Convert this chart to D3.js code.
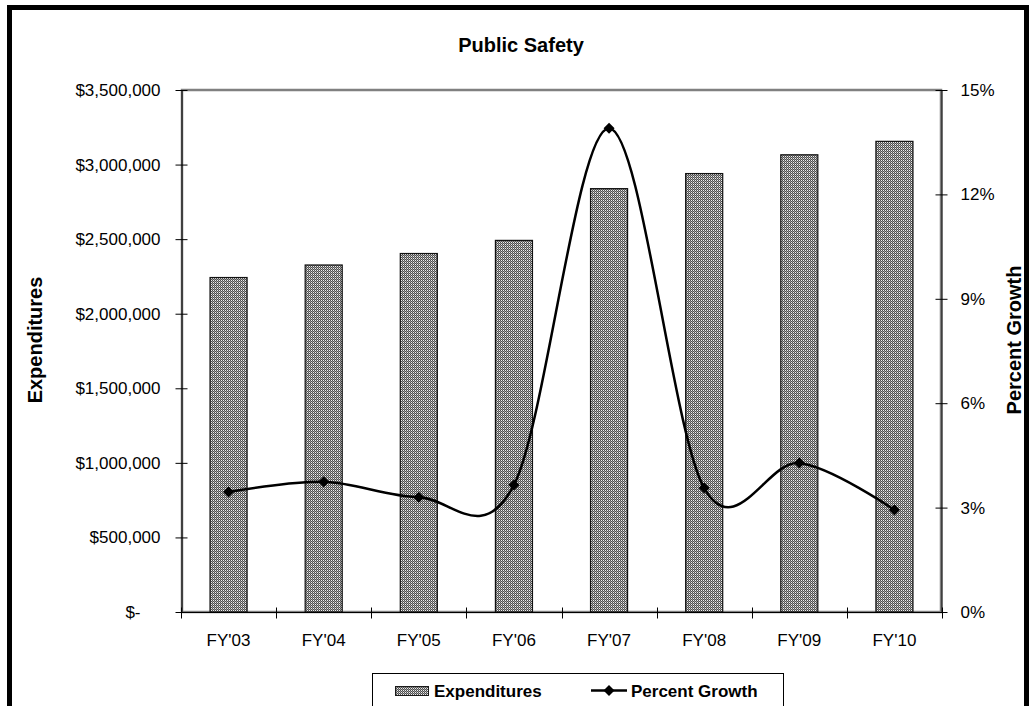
<!DOCTYPE html>
<html>
<head>
<meta charset="utf-8">
<script src="https://cdn.jsdelivr.net/npm/d3@7/dist/d3.min.js"></script>
<style>
  html, body { margin: 0; padding: 0; background: #ffffff; }
  svg { display: block; font-family: Arial, "Liberation Sans", sans-serif; }
</style>
</head>
<body>
<svg id="chart" width="1031" height="706"></svg>
<script>
// Public Safety expenditures by fiscal year, with year-over-year growth
const categories = ["FY'03", "FY'04", "FY'05", "FY'06", "FY'07", "FY'08", "FY'09", "FY'10"];
const expenditures = [2246000, 2330000, 2407000, 2495000, 2842000, 2943000, 3069000, 3159000];
const percentGrowth = [3.45, 3.74, 3.30, 3.65, 13.9, 3.56, 4.28, 2.93];
const leftTicks = [0, 500000, 1000000, 1500000, 2000000, 2500000, 3000000, 3500000];
const leftTickLabels = ["$-", "$500,000", "$1,000,000", "$1,500,000", "$2,000,000", "$2,500,000", "$3,000,000", "$3,500,000"];
const rightTicks = [0, 3, 6, 9, 12, 15];
const rightTickLabels = ["0%", "3%", "6%", "9%", "12%", "15%"];

const svg = d3.select("#chart");
const plot = { left: 181, right: 942, top: 90, bottom: 612 };
const tickFont = 17;

// checkered fill used for the bars and the legend swatch
const defs = svg.append("defs");
const pat = defs.append("pattern")
  .attr("id", "checker").attr("patternUnits", "userSpaceOnUse")
  .attr("width", 2).attr("height", 2);
pat.append("rect").attr("width", 2).attr("height", 2).attr("fill", "#999999");
pat.append("rect").attr("x", 0).attr("y", 0).attr("width", 1).attr("height", 1).attr("fill", "#4e4e4e");
pat.append("rect").attr("x", 1).attr("y", 1).attr("width", 1).attr("height", 1).attr("fill", "#4e4e4e");
pat.append("rect").attr("x", 1).attr("y", 0).attr("width", 1).attr("height", 1).attr("fill", "#eeeeee");

// outer chart frame
svg.append("rect")
  .attr("x", 9.5).attr("y", 7.5).attr("width", 1017).attr("height", 740)
  .attr("fill", "none").attr("stroke", "#000").attr("stroke-width", 5);

const x = d3.scaleBand().domain(categories).range([plot.left, plot.right]).padding(0);
const yL = d3.scaleLinear().domain([0, 3500000]).range([plot.bottom, plot.top]);
const yR = d3.scaleLinear().domain([0, 15]).range([plot.bottom, plot.top]);

// plot area border
svg.append("rect")
  .attr("x", plot.left + 1).attr("y", plot.top)
  .attr("width", plot.right - plot.left - 2).attr("height", plot.bottom - plot.top)
  .attr("fill", "none").attr("stroke", "#808080").attr("stroke-width", 2.5);

// bars
const barW = x.bandwidth() * 0.4;
svg.append("g").selectAll("rect")
  .data(categories)
  .join("rect")
  .attr("x", d => x(d) + (x.bandwidth() - barW) / 2 + 0.5)
  .attr("y", (d, i) => yL(expenditures[i]) + 0.5)
  .attr("width", barW - 1)
  .attr("height", (d, i) => yL(0) - yL(expenditures[i]) - 0.5)
  .attr("fill", "url(#checker)")
  .attr("stroke", "#111").attr("stroke-width", 1.2);

// left axis
const leftAxis = d3.axisLeft(yL).tickValues(leftTicks)
  .tickFormat((d, i) => leftTickLabels[i]).tickSizeInner(6).tickSizeOuter(0).tickPadding(15);
const gL = svg.append("g").attr("transform", `translate(${plot.left + 0.5},0)`).call(leftAxis);
gL.select(".domain").attr("stroke", "#000");
gL.selectAll(".tick line").attr("x1", 6).attr("x2", -6).attr("stroke", "#000");
gL.selectAll(".tick text").attr("font-size", tickFont).attr("fill", "#000")
  .attr("font-family", "Arial, 'Liberation Sans', sans-serif")
  .attr("dx", d => d === 0 ? -20 : 0);

// right axis
const rightAxis = d3.axisRight(yR).tickValues(rightTicks)
  .tickFormat((d, i) => rightTickLabels[i]).tickSizeInner(6).tickSizeOuter(0).tickPadding(13);
const gR = svg.append("g").attr("transform", `translate(${plot.right - 0.5},0)`).call(rightAxis);
gR.select(".domain").attr("stroke", "#000");
gR.selectAll(".tick line").attr("x1", -6).attr("x2", 6).attr("stroke", "#000");
gR.selectAll(".tick text").attr("font-size", tickFont).attr("fill", "#000")
  .attr("font-family", "Arial, 'Liberation Sans', sans-serif");

// bottom axis: ticks sit on category boundaries
const gB = svg.append("g").attr("transform", `translate(0,${plot.bottom + 0.5})`);
gB.append("line").attr("x1", plot.left).attr("x2", plot.right)
  .attr("stroke", "#000");
const boundaries = categories.map(c => x(c)).concat([plot.right]);
gB.selectAll("line.tk").data(boundaries).join("line").attr("class", "tk")
  .attr("x1", d => Math.round(d) + 0.5).attr("x2", d => Math.round(d) + 0.5)
  .attr("y1", -5).attr("y2", 6).attr("stroke", "#000");
gB.selectAll("text").data(categories).join("text")
  .attr("x", d => x(d) + x.bandwidth() / 2)
  .attr("y", 33)
  .attr("text-anchor", "middle").attr("font-size", tickFont).attr("fill", "#000")
  .text(d => d);

// percent growth line (smoothed)
const line = d3.line()
  .x((d, i) => x(categories[i]) + x.bandwidth() / 2)
  .y(d => yR(d))
  .curve(d3.curveCardinal.tension(0));
svg.append("path").datum(percentGrowth)
  .attr("d", line).attr("fill", "none").attr("stroke", "#000").attr("stroke-width", 2.5);

const diamond = "M0,-5.5L5.5,0L0,5.5L-5.5,0Z";
svg.append("g").selectAll("path").data(percentGrowth).join("path")
  .attr("transform", (d, i) => `translate(${x(categories[i]) + x.bandwidth() / 2},${yR(d)})`)
  .attr("d", diamond).attr("fill", "#000");

// title and axis titles
svg.append("text").attr("x", 521).attr("y", 52).attr("text-anchor", "middle")
  .attr("font-size", 20).attr("font-weight", "bold").text("Public Safety");
svg.append("text").attr("transform", "translate(42,340) rotate(-90)")
  .attr("text-anchor", "middle").attr("font-size", 20).attr("font-weight", "bold").text("Expenditures");
svg.append("text").attr("transform", "translate(1021,340) rotate(-90)")
  .attr("text-anchor", "middle").attr("font-size", 20).attr("font-weight", "bold").text("Percent Growth");

// legend
const lg = svg.append("g");
lg.append("rect").attr("x", 372.5).attr("y", 673.5).attr("width", 411).attr("height", 60)
  .attr("fill", "#fff").attr("stroke", "#000").attr("stroke-width", 1);
lg.append("rect").attr("x", 395.5).attr("y", 686.5).attr("width", 33).attr("height", 9)
  .attr("fill", "url(#checker)").attr("stroke", "#1a1a1a");
lg.append("text").attr("x", 434).attr("y", 697).attr("font-size", 17).attr("font-weight", "bold")
  .text("Expenditures");
lg.append("line").attr("x1", 591).attr("x2", 627).attr("y1", 690.5).attr("y2", 690.5)
  .attr("stroke", "#000").attr("stroke-width", 2.5);
lg.append("path").attr("transform", "translate(609,690.5)").attr("d", diamond).attr("fill", "#000");
lg.append("text").attr("x", 631).attr("y", 697).attr("font-size", 17).attr("font-weight", "bold")
  .text("Percent Growth");
</script>
</body>
</html>
